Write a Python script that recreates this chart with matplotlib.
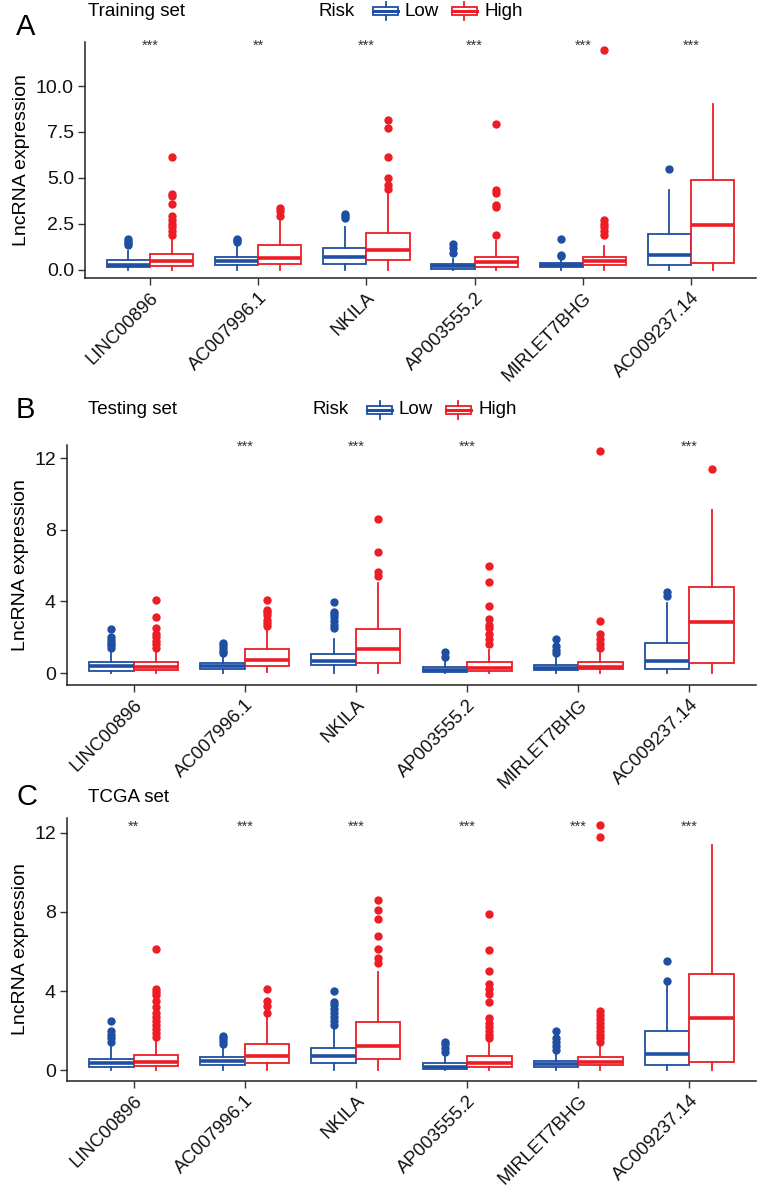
import matplotlib
matplotlib.use("Agg")
import matplotlib.pyplot as plt
from matplotlib.patches import Rectangle
from matplotlib.lines import Line2D

plt.rcParams['font.family'] = ['Liberation Sans', 'DejaVu Sans']

genes = ["LINC00896", "AC007996.1", "NKILA", "AP003555.2", "MIRLET7BHG", "AC009237.14"]
groups = ["Low", "High"]

# ---- Training set: (whislo, q1, median, q3, whishi) per gene ----
train_low_box = [(0.0, 0.15, 0.27, 0.54, 1.0), (0.0, 0.27, 0.5, 0.72, 1.3), (0.0, 0.33, 0.72, 1.18, 2.32),
                 (0.0, 0.05, 0.18, 0.33, 0.6), (0.0, 0.15, 0.25, 0.36, 0.6), (0.0, 0.27, 0.8, 1.96, 4.35)]
train_low_out = [[1.35, 1.45, 1.55, 1.65], [1.5, 1.6, 1.7], [2.8, 2.9, 3.05],
                 [0.9, 1.2, 1.4], [0.75, 0.8, 1.65], [5.5]]
train_high_box = [(0.0, 0.22, 0.5, 0.84, 1.7), (0.0, 0.31, 0.63, 1.32, 2.72), (0.0, 0.54, 1.09, 2.0, 4.17),
                  (0.0, 0.15, 0.4, 0.72, 1.54), (0.0, 0.24, 0.45, 0.67, 1.27), (0.0, 0.36, 2.45, 4.9, 9.05)]
train_high_out = [[1.9, 2.1, 2.3, 2.5, 2.7, 2.9, 3.6, 4.0, 4.1, 6.15], [2.9, 3.2, 3.35],
                  [4.4, 4.62, 5.02, 6.15, 7.7, 8.15], [1.9, 3.4, 3.5, 4.2, 4.35, 7.95],
                  [1.9, 2.1, 2.3, 2.5, 2.7, 11.95], []]
train_sig = ["***", "**", "***", "***", "***", "***"]

# ---- Testing set ----
test_low_box = [(0.0, 0.13, 0.39, 0.6, 1.28), (0.0, 0.2, 0.39, 0.54, 0.91), (0.0, 0.45, 0.69, 1.04, 1.88),
                (0.0, 0.05, 0.17, 0.35, 0.7), (0.0, 0.15, 0.3, 0.45, 0.9), (0.0, 0.25, 0.65, 1.7, 3.9)]
test_low_out = [[1.4, 1.55, 1.7, 1.84, 2.0, 2.47], [1.1, 1.25, 1.4, 1.55, 1.7],
                [2.5, 2.7, 2.9, 3.1, 3.3, 3.43, 3.98], [0.9, 1.2], [1.1, 1.3, 1.5, 1.9], [4.3, 4.5]]
test_high_box = [(0.0, 0.15, 0.35, 0.6, 1.2), (0.05, 0.39, 0.73, 1.32, 2.44), (0.0, 0.54, 1.34, 2.44, 5.01),
                 (0.0, 0.12, 0.28, 0.6, 1.3), (0.0, 0.2, 0.35, 0.6, 1.1), (0.0, 0.55, 2.85, 4.8, 9.1)]
test_high_out = [[1.4, 1.6, 1.8, 2.0, 2.2, 2.5, 3.1, 4.08], [2.6, 2.8, 2.96, 3.24, 3.4, 3.52, 4.08],
                 [5.42, 5.66, 6.78, 8.6], [1.6, 1.9, 2.2, 2.5, 2.7, 3.0, 3.74, 5.08, 6.0],
                 [1.4, 1.6, 1.9, 2.2, 2.9, 12.4], [11.4]]
test_sig = ["", "***", "***", "***", "", "***"]

# ---- TCGA set ----
tcga_low_box = [(0.0, 0.15, 0.35, 0.55, 1.2), (0.0, 0.27, 0.45, 0.65, 1.2), (0.0, 0.38, 0.7, 1.1, 2.15),
                (0.0, 0.05, 0.17, 0.35, 0.75), (0.0, 0.17, 0.3, 0.45, 0.85), (0.0, 0.25, 0.8, 1.96, 4.48)]
tcga_low_out = [[1.4, 1.6, 1.8, 2.0, 2.5], [1.3, 1.45, 1.6, 1.75],
                [2.3, 2.5, 2.7, 2.9, 3.1, 3.3, 3.45, 4.0], [0.9, 1.1, 1.3, 1.4],
                [1.0, 1.2, 1.4, 1.6, 1.98], [4.5, 5.5]]
tcga_high_box = [(0.0, 0.2, 0.42, 0.75, 1.5), (0.0, 0.35, 0.7, 1.32, 2.69), (0.0, 0.55, 1.2, 2.43, 4.98),
                 (0.0, 0.15, 0.35, 0.7, 1.5), (0.0, 0.25, 0.4, 0.65, 1.25), (0.0, 0.4, 2.65, 4.84, 11.4)]
tcga_high_out = [[1.7, 1.9, 2.1, 2.3, 2.5, 2.7, 2.9, 3.2, 3.5, 3.8, 3.95, 4.1, 6.14], [2.88, 3.26, 3.52, 4.12],
                 [5.41, 5.67, 6.14, 6.79, 7.62, 8.09, 8.6],
                 [1.6, 1.8, 2.0, 2.2, 2.4, 2.65, 3.43, 3.86, 4.1, 4.38, 5.03, 6.07, 7.88],
                 [1.4, 1.6, 1.8, 2.0, 2.2, 2.4, 2.6, 2.8, 3.0, 11.8, 12.38], []]
tcga_sig = ["**", "***", "***", "***", "***", "***"]

LOW_C = "#1F4FA3"
HIGH_C = "#EE1C25"
W, H = 758, 1188
FS_X = 13.3
FS_Y = 14

fig = plt.figure(figsize=(W / 100, H / 100), dpi=100)


def add_ax(left, right, top, bottom):
    return fig.add_axes([left / W, 1 - bottom / H, (right - left) / W, (bottom - top) / H])


def stats_of(box, out):
    return [dict(whislo=b[0], q1=b[1], med=b[2], q3=b[3], whishi=b[4], fliers=o) for b, o in zip(box, out)]


def panel(ax, low_box, low_out, high_box, high_out, sig, ylim, yticks, ylabels, star_y):
    n = len(genes)
    pos = list(range(1, n + 1))
    for boxes, outs, color, off in [(low_box, low_out, LOW_C, -0.2), (high_box, high_out, HIGH_C, 0.2)]:
        ax.bxp(stats_of(boxes, outs), positions=[p + off for p in pos], widths=0.4,
               patch_artist=True, showcaps=False,
               boxprops=dict(facecolor="white", edgecolor=color, linewidth=1.3),
               medianprops=dict(color=color, linewidth=2.6, solid_capstyle="butt"),
               whiskerprops=dict(color=color, linewidth=1.3),
               flierprops=dict(marker="o", markerfacecolor=color, markeredgecolor=color,
                               markersize=5.0, linestyle="none"))
    ax.set_xlim(0.4, n + 0.6)
    ax.set_ylim(*ylim)
    ax.set_xticks(pos)
    ax.set_xticklabels(genes, rotation=45, ha="right", va="top", rotation_mode="anchor", fontsize=FS_X)
    ax.set_yticks(yticks)
    ax.set_yticklabels(ylabels, fontsize=FS_Y)
    ax.set_ylabel("LncRNA expression", fontsize=FS_Y)
    for s in ["top", "right"]:
        ax.spines[s].set_visible(False)
    for s in ["left", "bottom"]:
        ax.spines[s].set_linewidth(1.1)
        ax.spines[s].set_color("#222222")
    ax.tick_params(axis="both", length=5, width=1.0, color="#333333", labelcolor="#111111", pad=3)
    for p, s in zip(pos, sig):
        if s:
            ax.text(p, star_y, s, ha="center", va="center", fontsize=10.5, color="#333333")


def legend_key(x, y, color):
    # boxplot glyph in pixel coordinates (x,y = left, centre)
    w, h = 25, 8.5
    fig.add_artist(Rectangle((x / W, 1 - (y + h / 2) / H), w / W, h / H, transform=fig.transFigure,
                             facecolor="white", edgecolor=color, linewidth=1.3))
    fig.add_artist(Line2D([x / W, (x + w) / W], [1 - y / H, 1 - y / H], transform=fig.transFigure,
                          color=color, linewidth=2.2))
    cx = (x + w / 2) / W
    fig.add_artist(Line2D([cx, cx], [1 - (y - h / 2) / H, 1 - (y - h / 2 - 5) / H], transform=fig.transFigure,
                          color=color, linewidth=1.3))
    fig.add_artist(Line2D([cx, cx], [1 - (y + h / 2) / H, 1 - (y + h / 2 + 5) / H], transform=fig.transFigure,
                          color=color, linewidth=1.3))


def header(letter, title, y, ly, legend_x=None):
    fig.text(16 / W, 1 - ly / H, letter, fontsize=21, ha="left", va="center")
    fig.text(88 / W, 1 - y / H, title, fontsize=13.5, ha="left", va="center")
    if legend_x is not None:
        fig.text(legend_x / W, 1 - y / H, "Risk", fontsize=13.5, ha="left", va="center")
        legend_key(legend_x + 55, y, LOW_C)
        fig.text((legend_x + 86) / W, 1 - y / H, "Low", fontsize=13.5, ha="left", va="center")
        legend_key(legend_x + 134, y, HIGH_C)
        fig.text((legend_x + 166) / W, 1 - y / H, "High", fontsize=13.5, ha="left", va="center")


axA = add_ax(85, 756, 42, 278)
panel(axA, train_low_box, train_low_out, train_high_box, train_high_out, train_sig,
      (-0.45, 12.4), [0, 2.5, 5, 7.5, 10], ["0.0", "2.5", "5.0", "7.5", "10.0"], 12.2)
header("A", "Training set", 11, 27, 318)

axB = add_ax(67, 756, 445, 685)
panel(axB, test_low_box, test_low_out, test_high_box, test_high_out, test_sig,
      (-0.67, 12.73), [0, 4, 8, 12], ["0", "4", "8", "12"], 12.62)
header("B", "Testing set", 410, 410, 312)

axC = add_ax(67, 756, 818, 1081)
panel(axC, tcga_low_box, tcga_low_out, tcga_high_box, tcga_high_out, tcga_sig,
      (-0.55, 12.75), [0, 4, 8, 12], ["0", "4", "8", "12"], 12.3)
header("C", "TCGA set", 797, 797, None)

fig.savefig("out.png", dpi=100)
